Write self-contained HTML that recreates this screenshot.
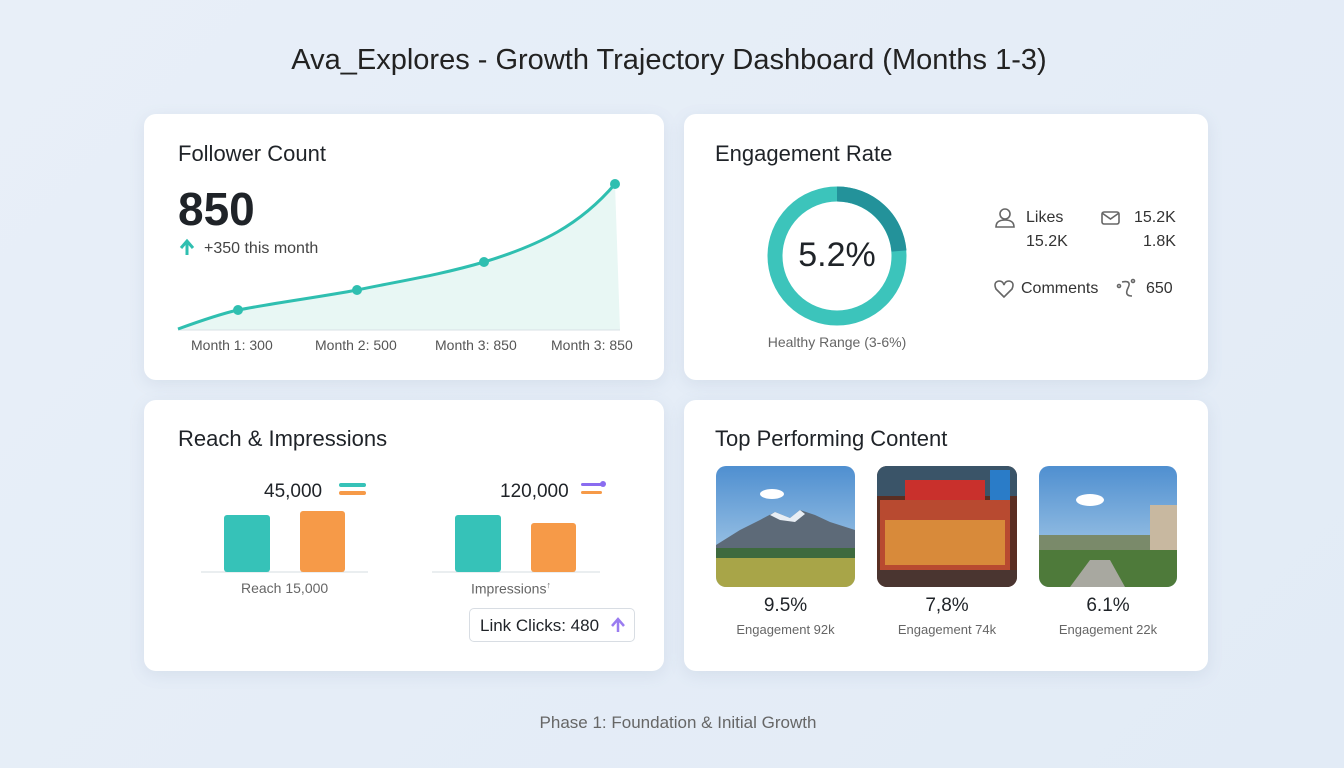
<!DOCTYPE html>
<html><head><style>
body{margin:0;width:1344px;height:768px;background:linear-gradient(135deg,#e8eff8,#e2ebf6);font-family:"Liberation Sans",sans-serif;position:relative;overflow:hidden;color:#1f2328}
.card{position:absolute;background:#fff;border-radius:12px;box-shadow:0 4px 16px rgba(100,120,160,.12)}
.t{position:absolute;white-space:nowrap}
</style></head><body>
<div class="t" style="left:0;width:1338px;text-align:center;top:44px;font-size:29px;color:#222">Ava_Explores - Growth Trajectory Dashboard (Months 1-3)</div>

<div class="card" style="left:144px;top:114px;width:520px;height:266px"></div>
<div class="card" style="left:684px;top:114px;width:524px;height:266px"></div>
<div class="card" style="left:144px;top:400px;width:520px;height:271px"></div>
<div class="card" style="left:684px;top:400px;width:524px;height:271px"></div>

<!-- Follower -->
<div class="t" style="left:178px;top:141px;font-size:22px">Follower Count</div>
<div class="t" style="left:178px;top:182px;font-size:46px;font-weight:bold">850</div>
<div class="t" style="left:204px;top:240px;font-size:16px;color:#444">+350 this month</div>
<svg style="position:absolute;left:0;top:0" width="1344" height="768">
<path d="M187,255 L187,242 M181,248 L187,241 L193,248" fill="none" stroke="#2fbfb0" stroke-width="3"/>
<path d="M178,329 C200,321 220,314 238,310 C280,302 320,297 357,290 C400,281 440,275 484,262 C540,245 580,225 615,184 L620,330 L178,330Z" fill="#e8f7f4"/>
<line x1="178" y1="330" x2="620" y2="330" stroke="#d8e2e6"/>
<path d="M178,329 C200,321 220,314 238,310 C280,302 320,297 357,290 C400,281 440,275 484,262 C540,245 580,225 615,184" fill="none" stroke="#2fbfb0" stroke-width="3"/>
<g fill="#2fbfb0"><circle cx="238" cy="310" r="5"/><circle cx="357" cy="290" r="5"/><circle cx="484" cy="262" r="5"/><circle cx="615" cy="184" r="5"/></g>
<!-- donut -->
<circle cx="837" cy="256" r="62" fill="none" stroke="#3cc4bb" stroke-width="15"/>
<path d="M837,194 A62,62 0 0 1 899,251" fill="none" stroke="#23929a" stroke-width="15"/>
<!-- icons -->
<g fill="none" stroke="#666" stroke-width="1.6">
<circle cx="1005" cy="214" r="5"/><path d="M996,227 Q996,220 1005,220 Q1014,220 1014,227Z"/>
<rect x="1102" y="212" width="17" height="12" rx="2"/><path d="M1102,213 L1110.5,219 L1119,213"/>
<path d="M1004,297 L996,289 Q993,282 999,281 Q1003,281 1004,285 Q1005,281 1009,281 Q1015,282 1012,289Z"/>
<path d="M1122,282 Q1132,280 1128,288 Q1124,296 1132,296" /><circle cx="1119" cy="286" r="1.5"/><circle cx="1133" cy="281" r="1.5"/>
</g>
<!-- bars -->
<line x1="201" y1="572" x2="368" y2="572" stroke="#d5dce2"/>
<line x1="432" y1="572" x2="600" y2="572" stroke="#d5dce2"/>
<rect x="224" y="515" width="46" height="57" rx="3" fill="#36c2b8"/>
<rect x="300" y="511" width="45" height="61" rx="3" fill="#f69a48"/>
<rect x="455" y="515" width="46" height="57" rx="3" fill="#36c2b8"/>
<rect x="531" y="523" width="45" height="49" rx="3" fill="#f69a48"/>
<rect x="339" y="483" width="27" height="4" rx="2" fill="#36c2b8"/><rect x="339" y="491" width="27" height="4" rx="2" fill="#f69a48"/>
<rect x="581" y="483" width="22" height="3" rx="1.5" fill="#8a6cf0"/><rect x="581" y="491" width="21" height="3" rx="1.5" fill="#f69a48"/><circle cx="603" cy="484" r="3" fill="#8a6cf0"/>
<!-- images -->
<defs>
<clipPath id="c1"><rect x="716" y="466" width="139" height="121" rx="10"/></clipPath>
<clipPath id="c2"><rect x="877" y="466" width="140" height="121" rx="10"/></clipPath>
<clipPath id="c3"><rect x="1039" y="466" width="138" height="121" rx="10"/></clipPath>
<linearGradient id="sk" x1="0" y1="0" x2="0" y2="1"><stop offset="0" stop-color="#4f8fd0"/><stop offset="1" stop-color="#b8d6ec"/></linearGradient>
</defs>
<g clip-path="url(#c1)">
<rect x="716" y="466" width="139" height="121" fill="url(#sk)"/>
<path d="M716,545 L740,530 L760,520 L775,512 L790,518 L800,510 L815,515 L830,522 L855,530 L855,560 L716,560Z" fill="#5d6a78"/>
<path d="M770,515 L775,512 L790,518 L800,510 L805,514 L795,522 L780,520Z" fill="#e8eef4"/>
<rect x="716" y="555" width="139" height="32" fill="#a8a548"/>
<rect x="716" y="548" width="139" height="10" fill="#3e6a3e"/>
<ellipse cx="772" cy="494" rx="12" ry="5" fill="#fff"/>
</g>
<g clip-path="url(#c2)">
<rect x="877" y="466" width="140" height="121" fill="#5a2e22"/>
<rect x="877" y="466" width="140" height="30" fill="#3a5468"/>
<rect x="905" y="480" width="80" height="20" fill="#c9302c"/>
<rect x="880" y="500" width="130" height="70" fill="#b84a30"/>
<rect x="885" y="520" width="120" height="45" fill="#d88a3a"/>
<rect x="877" y="570" width="140" height="17" fill="#4a3530"/>
<rect x="990" y="470" width="20" height="30" fill="#2a7cc8"/>
</g>
<g clip-path="url(#c3)">
<rect x="1039" y="466" width="138" height="121" fill="url(#sk)"/>
<ellipse cx="1090" cy="500" rx="14" ry="6" fill="#fff"/>
<rect x="1039" y="535" width="138" height="25" fill="#7a8a6a"/>
<rect x="1150" y="505" width="27" height="50" fill="#c8b8a0"/>
<rect x="1039" y="550" width="138" height="37" fill="#4e7a3a"/>
<path d="M1090,560 L1110,560 L1125,587 L1070,587Z" fill="#a8a8a0"/>
</g>
<path d="M618,632 L618,620 M612,626 L618,619 L624,626" fill="none" stroke="#9a7cf0" stroke-width="2.5"/>
</svg>
<div class="t" style="left:178px;top:337px;width:442px;font-size:14px;color:#555">
<span style="position:absolute;left:13px">Month 1: 300</span><span style="position:absolute;left:137px">Month 2: 500</span><span style="position:absolute;left:257px">Month 3: 850</span><span style="position:absolute;left:373px">Month 3: 850</span></div>

<!-- Engagement -->
<div class="t" style="left:715px;top:141px;font-size:22px">Engagement Rate</div>
<div class="t" style="left:767px;width:140px;text-align:center;top:236px;font-size:34px">5.2%</div>
<div class="t" style="left:737px;width:200px;text-align:center;top:334px;font-size:14px;color:#666">Healthy Range (3-6%)</div>
<div class="t" style="left:1026px;top:209px;font-size:16px;color:#333">Likes</div>
<div class="t" style="left:1026px;top:233px;font-size:16px;color:#333">15.2K</div>
<div class="t" style="left:1134px;top:209px;font-size:16px;color:#333">15.2K</div>
<div class="t" style="left:1143px;top:233px;font-size:16px;color:#333">1.8K</div>
<div class="t" style="left:1021px;top:280px;font-size:16px;color:#333">Comments</div>
<div class="t" style="left:1146px;top:280px;font-size:16px;color:#333">650</div>

<!-- Reach -->
<div class="t" style="left:178px;top:426px;font-size:22px">Reach &amp; Impressions</div>
<div class="t" style="left:264px;top:481px;font-size:19px">45,000</div>
<div class="t" style="left:500px;top:481px;font-size:19px">120,000</div>
<div class="t" style="left:241px;top:580px;font-size:14px;color:#666">Reach 15,000</div>
<div class="t" style="left:471px;top:580px;font-size:14px;color:#666">Impressions<sup style="font-size:9px">↑</sup></div>
<div style="position:absolute;left:469px;top:608px;width:166px;height:34px;border:1px solid #d8dde3;border-radius:5px;box-sizing:border-box"></div>
<div class="t" style="left:480px;top:616px;font-size:17px">Link Clicks: 480</div>

<!-- Top content -->
<div class="t" style="left:715px;top:426px;font-size:22px">Top Performing Content</div>
<div class="t" style="left:716px;width:139px;text-align:center;top:595px;font-size:19px">9.5%</div>
<div class="t" style="left:877px;width:140px;text-align:center;top:595px;font-size:19px">7,8%</div>
<div class="t" style="left:1039px;width:138px;text-align:center;top:595px;font-size:19px">6.1%</div>
<div class="t" style="left:716px;width:139px;text-align:center;top:622px;font-size:13px;color:#666">Engagement 92k</div>
<div class="t" style="left:877px;width:140px;text-align:center;top:622px;font-size:13px;color:#666">Engagement 74k</div>
<div class="t" style="left:1039px;width:138px;text-align:center;top:622px;font-size:13px;color:#666">Engagement 22k</div>

<div class="t" style="left:0;width:1356px;text-align:center;top:713px;font-size:17px;color:#666">Phase 1: Foundation &amp; Initial Growth</div>
</body></html>
